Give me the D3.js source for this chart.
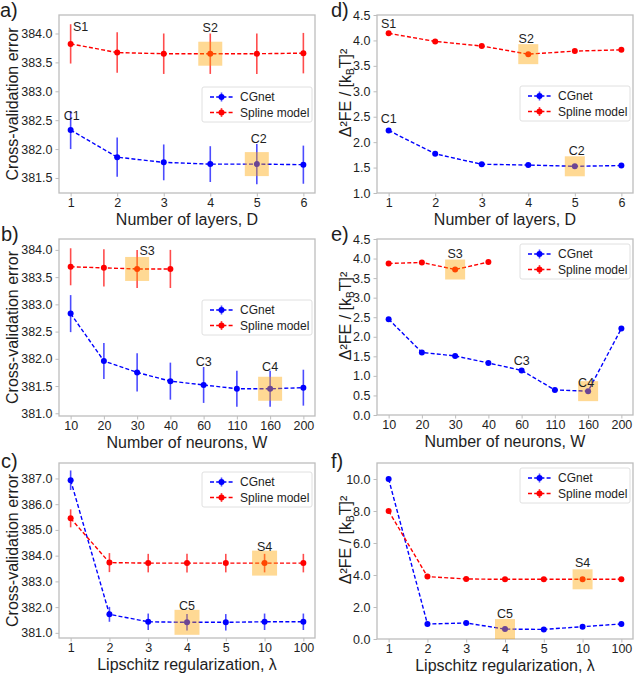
<!DOCTYPE html>
<html><head><meta charset="utf-8">
<script src="https://cdn.jsdelivr.net/npm/d3@7"></script>
<style>
body{margin:0;background:#fff}
svg{display:block}
text{font-family:"Liberation Sans",Arial,sans-serif;fill:#1e1e1e}
</style>
</head><body>
<svg id="chart" width="637" height="674"></svg>
<script>
// ---------- categories ----------
const layers = ["1","2","3","4","5","6"];
const neurons = ["10","20","30","40","60","110","160","200"];
const lipschitz = ["1","2","3","4","5","10","100"];

// ---------- cross-validation error ----------
const cvLayersCGnet     = [382.33, 381.86, 381.77, 381.74, 381.74, 381.73];
const cvLayersCGnetErr  = [0.33, 0.34, 0.31, 0.31, 0.35, 0.33];
const cvLayersSpline    = [383.82, 383.67, 383.65, 383.65, 383.65, 383.66];
const cvLayersSplineErr = [0.34, 0.35, 0.35, 0.35, 0.35, 0.35];

const cvNeuronsCGnet     = [382.83, 381.96, 381.75, 381.59, 381.52, 381.45, 381.45, 381.47];
const cvNeuronsCGnetErr  = [0.34, 0.33, 0.35, 0.34, 0.33, 0.33, 0.33, 0.33];
const cvNeuronsSpline    = [383.69, 383.67, 383.65, 383.65];
const cvNeuronsSplineErr = [0.34, 0.34, 0.35, 0.35];

const cvLipCGnet     = [386.93, 381.72, 381.43, 381.41, 381.41, 381.43, 381.43];
const cvLipCGnetErr  = [0.38, 0.29, 0.32, 0.32, 0.32, 0.32, 0.32];
const cvLipSpline    = [385.45, 383.73, 383.71, 383.71, 383.71, 383.71, 383.71];
const cvLipSplineErr = [0.35, 0.37, 0.36, 0.36, 0.36, 0.36, 0.36];

// ---------- squared free-energy error ----------
const feLayersCGnet  = [2.23, 1.77, 1.565, 1.55, 1.525, 1.54];
const feLayersSpline = [4.14, 3.98, 3.89, 3.73, 3.79, 3.815];
const feNeuronsCGnet  = [2.45, 1.60, 1.51, 1.33, 1.14, 0.64, 0.61, 2.21];
const feNeuronsSpline = [3.875, 3.90, 3.72, 3.91];
const feLipCGnet  = [10.0, 0.94, 1.0, 0.62, 0.6, 0.77, 0.94];
const feLipSpline = [8.0, 3.9, 3.75, 3.73, 3.73, 3.73, 3.73];

// ---------- axes ----------
const cvLayersYDomain = [381.24, 384.32];
const cvLayersYTicks = [381.5, 382.0, 382.5, 383.0, 383.5, 384.0];
const cvNeuronsYDomain = [380.95, 384.2];
const cvNeuronsYTicks = [381.0, 381.5, 382.0, 382.5, 383.0, 383.5, 384.0];
const cvLipYDomain = [380.8, 387.6];
const cvLipYTicks = [381, 382, 383, 384, 385, 386, 387];
const feLayersYDomain = [1.0, 4.5];
const feLayersYTicks = [1.0, 1.5, 2.0, 2.5, 3.0, 3.5, 4.0, 4.5];
const feNeuronsYDomain = [0.0, 4.5];
const feNeuronsYTicks = [0.0, 0.5, 1.0, 1.5, 2.0, 2.5, 3.0, 3.5, 4.0, 4.5];
const feLipYDomain = [0, 11.0];
const feLipYTicks = [0, 2, 4, 6, 8, 10];

const xLabelLayers = "Number of layers, D";
const xLabelNeurons = "Number of neurons, W";
const xLabelLip = "Lipschitz regularization, \u03bb";
const yLabelCV = "Cross-validation error";
const seriesNames = ["CGnet", "Spline model"];

// highlighted (selected) models: [series, index]
const hlLayers = [["sp",3],["cg",4]];
const hlNeurons = [["sp",2],["cg",6]];
const hlLip = [["sp",5],["cg",3]];

// annotation labels: [text, series, index]
const annLayers = [["S1","sp",0],["C1","cg",0],["S2","sp",3],["C2","cg",4]];
const annNeurons = [["S3","sp",2],["C3","cg",4],["C4","cg",6]];
const annLip = [["S4","sp",5],["C5","cg",3]];

// ---------- layout / style ----------
const BLUE = "#0000ff", RED = "#ff0000";
const FRAME = "#bdbdbd";
const annOffsets = {
  a: [[10,-13],[1,-10],[0,-22],[2,-21]],
  d: [[0,-5],[0,-7],[-2,-11],[2,-11]],
  b: [[10,-14],[0,-19],[0,-18]],
  e: [[0,-12],[0,-5],[-2,-4]],
  c: [[0,-12],[0,-12]],
  f: [[0,-12],[0,-11]]
};

const panels = [
  {id:"a", left:59, right:315, top:15, bottom:193, cats:layers, pad:0.25,
   cg:cvLayersCGnet, cgErr:cvLayersCGnetErr, sp:cvLayersSpline, spErr:cvLayersSplineErr,
   yDomain:cvLayersYDomain, yTicks:cvLayersYTicks, xLabel:xLabelLayers, fe:false,
   hl:hlLayers, ann:annLayers, legendTop:87, box:24, letter:[0,17]},
  {id:"d", left:377, right:633, top:15, bottom:193, cats:layers, pad:0.25,
   cg:feLayersCGnet, sp:feLayersSpline,
   yDomain:feLayersYDomain, yTicks:feLayersYTicks, xLabel:xLabelLayers, fe:true,
   hl:hlLayers, ann:annLayers, legendTop:86, box:20, letter:[331,17]},
  {id:"b", left:59, right:315, top:239, bottom:416, cats:neurons, pad:0.35,
   cg:cvNeuronsCGnet, cgErr:cvNeuronsCGnetErr, sp:cvNeuronsSpline, spErr:cvNeuronsSplineErr,
   yDomain:cvNeuronsYDomain, yTicks:cvNeuronsYTicks, xLabel:xLabelNeurons, fe:false,
   hl:hlNeurons, ann:annNeurons, legendTop:300, box:24, letter:[1,241]},
  {id:"e", left:377, right:633, top:239, bottom:415, cats:neurons, pad:0.35,
   cg:feNeuronsCGnet, sp:feNeuronsSpline,
   yDomain:feNeuronsYDomain, yTicks:feNeuronsYTicks, xLabel:xLabelNeurons, fe:true,
   hl:hlNeurons, ann:annNeurons, legendTop:244, box:20, letter:[331,241]},
  {id:"c", left:59, right:315, top:463, bottom:638, cats:lipschitz, pad:0.3,
   cg:cvLipCGnet, cgErr:cvLipCGnetErr, sp:cvLipSpline, spErr:cvLipSplineErr,
   yDomain:cvLipYDomain, yTicks:cvLipYTicks, xLabel:xLabelLip, fe:false,
   hl:hlLip, ann:annLip, legendTop:472, box:25, letter:[1,468]},
  {id:"f", left:377, right:633, top:463, bottom:639, cats:lipschitz, pad:0.3,
   cg:feLipCGnet, sp:feLipSpline,
   yDomain:feLipYDomain, yTicks:feLipYTicks, xLabel:xLabelLip, fe:true,
   hl:hlLip, ann:annLip, legendTop:468, box:20, letter:[331,468]}
];

const svg = d3.select("#chart");

panels.forEach(p => {
  const g = svg.append("g");
  const x = d3.scalePoint().domain(p.cats).range([p.left, p.right]).padding(p.pad);
  const y = d3.scaleLinear().domain(p.yDomain).range([p.bottom, p.top]);
  const fmt = d3.format(".1f");

  // axes
  const xa = g.append("g").attr("transform", `translate(0,${p.bottom})`)
    .call(d3.axisBottom(x).tickSize(3.5).tickPadding(2));
  const ya = g.append("g").attr("transform", `translate(${p.left},0)`)
    .call(d3.axisLeft(y).tickValues(p.yTicks).tickFormat(fmt).tickSize(3.5).tickPadding(3));
  [xa, ya].forEach(a => {
    a.select(".domain").remove();
    a.selectAll(".tick line").attr("stroke", FRAME);
    a.selectAll(".tick text").attr("font-size", 12.5).attr("fill", "#1e1e1e")
      .attr("font-family", '"Liberation Sans",Arial,sans-serif');
  });

  // frame
  g.append("rect").attr("x", p.left).attr("y", p.top)
    .attr("width", p.right - p.left).attr("height", p.bottom - p.top)
    .attr("fill", "none").attr("stroke", FRAME).attr("stroke-width", 1.3);

  const series = [
    {key:"cg", vals:p.cg, err:p.cgErr, color:BLUE},
    {key:"sp", vals:p.sp, err:p.spErr, color:RED}
  ];
  const pts = {};
  series.forEach(s => {
    const data = s.vals.map((v, i) => ({c:p.cats[i], v, e: s.err ? s.err[i] : 0}));
    pts[s.key] = data;
    if (s.err) {
      g.selectAll(null).data(data).enter().append("line")
        .attr("x1", d => x(d.c)).attr("x2", d => x(d.c))
        .attr("y1", d => y(d.v - d.e)).attr("y2", d => y(d.v + d.e))
        .attr("stroke", s.color).attr("stroke-opacity", 0.7).attr("stroke-width", 1.6);
    }
    g.append("path").datum(data)
      .attr("d", d3.line().x(d => x(d.c)).y(d => y(d.v)))
      .attr("fill", "none").attr("stroke", s.color).attr("stroke-width", 1.4)
      .attr("stroke-dasharray", "4,2.2");
    g.selectAll(null).data(data).enter().append("circle")
      .attr("cx", d => x(d.c)).attr("cy", d => y(d.v)).attr("r", 3)
      .attr("fill", s.color);
  });

  // highlight boxes
  p.hl.forEach(([k, i]) => {
    const d = pts[k][i];
    g.append("rect").attr("x", x(d.c) - p.box/2).attr("y", y(d.v) - p.box/2)
      .attr("width", p.box).attr("height", p.box)
      .attr("fill", "#ffa500").attr("fill-opacity", 0.42);
  });

  // annotations
  p.ann.forEach(([t, k, i], j) => {
    const d = pts[k][i];
    const off = annOffsets[p.id][j];
    g.append("text").attr("x", x(d.c) + off[0]).attr("y", y(d.v) + off[1])
      .attr("text-anchor", "middle").attr("font-size", 12.5).text(t);
  });

  // legend
  const lw = 110, lh = 35;
  const lx = p.right - 3 - lw, ly = p.legendTop;
  const lg = g.append("g");
  lg.append("rect").attr("x", lx).attr("y", ly).attr("width", lw).attr("height", lh)
    .attr("rx", 2).attr("fill", "#fff").attr("fill-opacity", 0.85)
    .attr("stroke", "#e0e0e0").attr("stroke-width", 1);
  [[BLUE, seriesNames[0]], [RED, seriesNames[1]]].forEach(([col, name], i) => {
    const yy = ly + 10 + i * 15.5;
    lg.append("line").attr("x1", lx + 8).attr("x2", lx + 31).attr("y1", yy).attr("y2", yy)
      .attr("stroke", col).attr("stroke-width", 1.4).attr("stroke-dasharray", "4,2.2");
    lg.append("line").attr("x1", lx + 19.5).attr("x2", lx + 19.5).attr("y1", yy - 4.5).attr("y2", yy + 4.5)
      .attr("stroke", col).attr("stroke-opacity", 0.7).attr("stroke-width", 1.6);
    lg.append("circle").attr("cx", lx + 19.5).attr("cy", yy).attr("r", 3).attr("fill", col);
    lg.append("text").attr("x", lx + 38).attr("y", yy).attr("dy", "0.36em")
      .attr("font-size", 12).text(name);
  });

  // x label
  g.append("text").attr("x", (p.left + p.right) / 2).attr("y", p.bottom + 31.5)
    .attr("text-anchor", "middle").attr("font-size", 16).text(p.xLabel);

  // y label
  const cy = (p.top + p.bottom) / 2;
  if (!p.fe) {
    g.append("text").attr("transform", `translate(${p.left - 41},${cy}) rotate(-90)`)
      .attr("text-anchor", "middle").attr("font-size", 16).text(yLabelCV);
  } else {
    const t = g.append("text").attr("transform", `translate(${p.left - 26},${cy - 11}) rotate(-90)`)
      .attr("text-anchor", "middle").attr("font-size", 16);
    t.append("tspan").text("\u0394\u00b2FE / [k");
    t.append("tspan").attr("font-size", 10).attr("dy", 3).text("B");
    t.append("tspan").attr("dy", -3).text("T]\u00b2");
  }

  // panel letter
  g.append("text").attr("x", p.letter[0]).attr("y", p.letter[1])
    .attr("font-size", 20).text(p.id + ")");
});
</script>
</body></html>
